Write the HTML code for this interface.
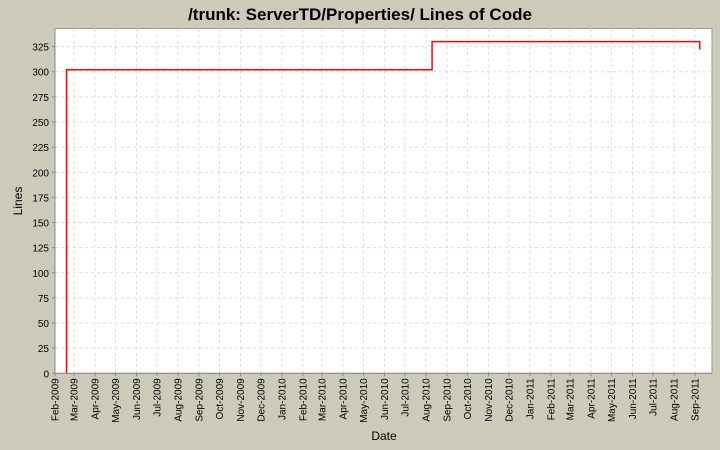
<!DOCTYPE html>
<html><head><meta charset="utf-8"><style>
html,body{margin:0;padding:0;background:#cccbb9;}
svg{display:block;font-family:"Liberation Sans",Arial,sans-serif;}
</style></head><body>
<svg id="chart" width="720" height="450" viewBox="0 0 720 450" xmlns="http://www.w3.org/2000/svg">
<rect x="0" y="0" width="720" height="450" fill="#cccbb9"/>
<text x="360" y="20" text-anchor="middle" font-size="17" font-weight="bold" fill="#000">/trunk: ServerTD/Properties/ Lines of Code</text>
<rect x="55" y="28.5" width="657" height="345" fill="#fff" stroke="#999" stroke-width="1"/>
<g id="grid"></g>
<g id="axes"></g>
<g id="series"></g>
<text x="384" y="440" text-anchor="middle" font-size="12" fill="#000">Date</text>
<text transform="translate(22,201) rotate(-90)" text-anchor="middle" font-size="12" fill="#000">Lines</text>
</svg>
<script>
const dates = ["2009-02-18","2009-02-18","2010-08-10","2011-09-08","2011-09-08"];
const values = [0,302,330,330,322];
const yTicks = [0,25,50,75,100,125,150,175,200,225,250,275,300,325];
const monthLabels = ["Feb-2009","Mar-2009","Apr-2009","May-2009","Jun-2009","Jul-2009","Aug-2009","Sep-2009","Oct-2009","Nov-2009","Dec-2009","Jan-2010","Feb-2010","Mar-2010","Apr-2010","May-2010","Jun-2010","Jul-2010","Aug-2010","Sep-2010","Oct-2010","Nov-2010","Dec-2010","Jan-2011","Feb-2011","Mar-2011","Apr-2011","May-2011","Jun-2011","Jul-2011","Aug-2011","Sep-2011"];

const NS="http://www.w3.org/2000/svg";
const L=55,R=712,T=28.5,B=373.3;
const t0=Date.UTC(2009,1,1), t1=Date.UTC(2011,8,26);
const yMax=343;
function parseD(s){const p=s.split("-");return Date.UTC(+p[0],+p[1]-1,+p[2]);}
function x(t){return L+(t-t0)/(t1-t0)*(R-L);}
function y(v){return B-v/yMax*(B-T);}
const mon={Jan:0,Feb:1,Mar:2,Apr:3,May:4,Jun:5,Jul:6,Aug:7,Sep:8,Oct:9,Nov:10,Dec:11};
function mk(tag,attrs,parent){const e=document.createElementNS(NS,tag);for(const k in attrs)e.setAttribute(k,attrs[k]);parent.appendChild(e);return e;}
const grid=document.getElementById("grid"),axes=document.getElementById("axes"),series=document.getElementById("series");

yTicks.forEach(v=>{
  const gy=y(v);
  const gl=mk("line",{x1:L,x2:R,y1:gy,y2:gy,stroke:"#dcdcdc","stroke-dasharray":"3,3","stroke-width":1},grid);
  
  
  const tk=mk("line",{x1:L-3,x2:L,y1:gy,y2:gy,stroke:"#888"},axes);
  
  
  const tx=mk("text",{x:L-6,y:gy+4,"text-anchor":"end","font-size":"10",fill:"#000"},axes);
  tx.textContent=v;
  
  
});
monthLabels.forEach(m=>{
  const p=m.split("-");
  const gx=x(Date.UTC(+p[1],mon[p[0]],1));
  const gl=mk("line",{x1:gx,x2:gx,y1:T,y2:B,stroke:"#dcdcdc","stroke-dasharray":"3,3","stroke-width":1},grid);
  
  
  const tk=mk("line",{x1:gx,x2:gx,y1:B,y2:B+3,stroke:"#888"},axes);
  
  
  const tx=mk("text",{transform:`translate(${gx+3.5},${B+5}) rotate(-90)`,"text-anchor":"end","font-size":"10",fill:"#000"},axes);
  tx.textContent=m;
  
  
});
const ax1=mk("line",{x1:L,x2:L,y1:T,y2:B,stroke:"#888"},axes);


const ax2=mk("line",{x1:L,x2:R,y1:B,y2:B,stroke:"#888"},axes);



let d="";
for(let i=0;i<dates.length;i++){
  const px=x(parseD(dates[i])),py=y(values[i]);
  if(i===0)d+=`M${px},${py}`;
  else{const prevY=y(values[i-1]);d+=` L${px},${prevY} L${px},${py}`;}
}
const path=mk("path",{d:d,fill:"none",stroke:"#ff0000","stroke-width":1.5},series);


</script>
</body></html>
